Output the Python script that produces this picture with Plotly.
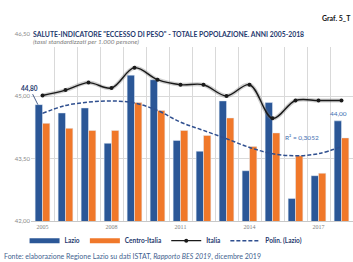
import plotly.graph_objects as go

years = list(range(2005, 2019))
lazio = [44.80, 44.60, 44.72, 43.87, 45.51, 45.40, 43.94, 43.68, 44.89, 43.21, 44.85, 42.54, 43.09, 44.41]
centro = [44.35, 44.23, 44.18, 44.18, 44.85, 44.66, 44.18, 44.06, 44.48, 43.79, 44.12, 43.57, 43.15, 44.00]
italia = [45.02, 45.15, 45.33, 45.20, 45.69, 45.40, 45.28, 45.28, 45.01, 45.28, 44.47, 44.90, 44.90, 44.90]
trend = [44.59, 44.78, 44.86, 44.89, 44.84, 44.66, 44.38, 44.18, 43.98, 43.77, 43.62, 43.57, 43.62, 43.79]
xtick_years = [2005, 2008, 2011, 2014, 2017]
ytick_vals = [42.0, 43.5, 45.0, 46.5]
ytick_text = ["42,00", "43,50", "45,00", "46,50"]

BLUE = "#2B5797"
ORANGE = "#F0782A"
NAVY = "#1F3A6E"
FONT = "Lato"

fig = go.Figure()
fig.add_trace(go.Bar(x=years, y=lazio, name="Lazio", marker_color=BLUE, showlegend=False))
fig.add_trace(go.Bar(x=years, y=centro, name="Centro-Italia", marker_color=ORANGE, showlegend=False))
# legend swatches drawn as thick lines, like the original
fig.add_trace(go.Scatter(x=[None], y=[None], mode="lines", name="<b>Lazio</b>",
                         line=dict(color=BLUE, width=5)))
fig.add_trace(go.Scatter(x=[None], y=[None], mode="lines", name="<b>Centro-Italia</b>",
                         line=dict(color=ORANGE, width=5)))
# soft shadow under the Italia line
fig.add_trace(go.Scatter(x=years, y=italia, mode="lines", showlegend=False, hoverinfo="skip",
                         line=dict(color="rgba(120,120,120,0.35)", width=4, shape="spline")))
fig.add_trace(go.Scatter(x=years, y=italia, mode="lines+markers", name="<b>Italia</b>",
                         line=dict(color="#1a1a1a", width=1.4, shape="spline"),
                         marker=dict(color="#1a1a1a", size=4)))
fig.add_trace(go.Scatter(x=years, y=trend, mode="lines", name="<b>Polin. (Lazio)</b>",
                         line=dict(color="#2F4F8F", width=1.5, dash="4px,2px", shape="spline")))

fig.update_layout(
    width=353, height=262,
    margin=dict(l=31, r=0, t=34, b=41, autoexpand=False),
    paper_bgcolor="white", plot_bgcolor="white",
    barmode="group", bargap=0.36, bargroupgap=0.0,
    font=dict(family=FONT, size=6.5, color="#808080"),
    legend=dict(orientation="h", x=-0.02, xanchor="left", y=-0.105, yanchor="middle",
                font=dict(family=FONT, size=6.5, color=NAVY),
                itemwidth=30, tracegroupgap=0,
                bgcolor="rgba(0,0,0,0)"),
    xaxis=dict(range=[2004.5, 2018.5], tickmode="array", tickvals=xtick_years,
               ticktext=[str(y) for y in xtick_years], showgrid=False,
               tickfont=dict(family="Liberation Serif", size=6, color="#808080"),
               ticks="", showline=True, linecolor="#c8c8c8", linewidth=1,
               minor=dict(tickmode="linear", tick0=2004.5, dtick=1, showgrid=True,
                          gridcolor="#d9d9d9", gridwidth=1, ticks=""),
               zeroline=False, fixedrange=True),
    yaxis=dict(range=[42.0, 46.5], tickmode="array", tickvals=ytick_vals, ticktext=ytick_text,
               showgrid=True, gridcolor="#d9d9d9", gridwidth=1, zeroline=False,
               tickfont=dict(family=FONT, size=6, color="#8a8a8a"), ticks="",
               showline=False),
)

# blank band under the title, as in the original
fig.add_shape(type="rect", xref="paper", yref="paper", x0=0, x1=1, y0=0.93, y1=1.02,
              fillcolor="white", line=dict(width=0), layer="above")

fig.add_annotation(xref="paper", yref="paper", x=0.0, y=1.0, xanchor="left", yanchor="middle",
                   text="<b>SALUTE-INDICATORE \"ECCESSO DI PESO\" - TOTALE POPOLAZIONE. ANNI 2005-2018</b>",
                   showarrow=False, font=dict(family=FONT, size=6.85, color=NAVY))
fig.add_annotation(xref="paper", yref="paper", x=0.0, y=0.962, xanchor="left", yanchor="middle",
                   text="<i>(tassi standardizzati per 1.000 persone)</i>",
                   showarrow=False, font=dict(family=FONT, size=6.5, color="#7f7f7f"))
fig.add_annotation(xref="paper", yref="paper", x=1.0, y=1.085, xanchor="right", yanchor="middle",
                   text="<b>Graf. 5_T</b>", showarrow=False,
                   font=dict(family=FONT, size=7, color="#111111"))
fig.add_annotation(xref="paper", yref="paper", x=0, y=-0.19, xanchor="left", yanchor="middle",
                   xshift=-29,
                   text="Fonte: elaborazione Regione Lazio su dati ISTAT, <i>Rapporto BES 2019</i>, dicembre 2019",
                   showarrow=False, font=dict(family=FONT, size=7, color="#3f5f8f"))

# data labels
fig.add_annotation(x=years[0] - 0.2, y=lazio[0], text="<b>44,80</b>", showarrow=True,
                   arrowhead=0, arrowwidth=0.8, arrowcolor=NAVY, ax=-8, ay=-16,
                   font=dict(family=FONT, size=6.5, color=NAVY))
fig.add_annotation(x=years[-1] - 0.15, y=lazio[-1], text="44,00", showarrow=False,
                   yanchor="bottom", yshift=2, font=dict(family=FONT, size=6.5, color="#3f6fb0"))
fig.add_annotation(x=2016.3, y=44.02, text="R² = 0,3052", showarrow=False,
                   font=dict(family=FONT, size=6.5, color="#3f6fb0"))

fig.write_html("out.html", config={"displayModeBar": False},
               post_script="document.body.style.margin='0';document.body.style.overflow='hidden';")
